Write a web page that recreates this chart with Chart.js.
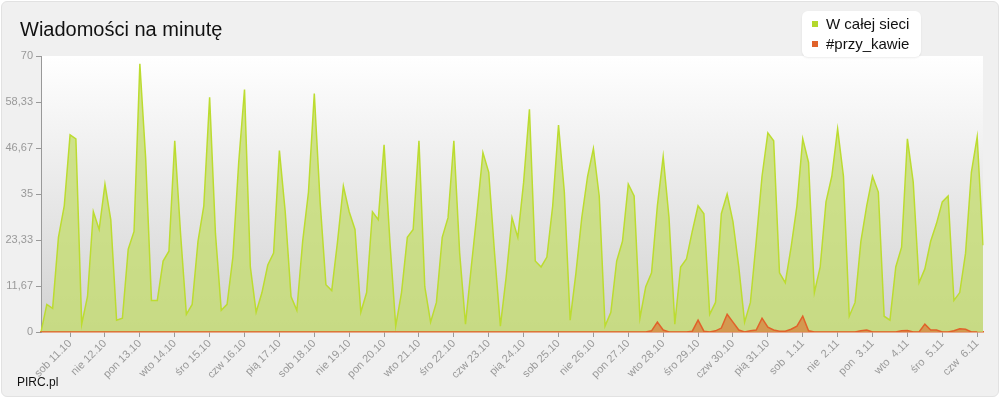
<!DOCTYPE html>
<html>
<head>
<meta charset="utf-8">
<script src="https://cdn.jsdelivr.net/npm/chart.js@4"></script>
<style>
  body { margin: 0; background: #fff; font-family: "Liberation Sans", Arial, sans-serif; }
  #wrap { position: relative; width: 998px; height: 396px; margin: 1px; background: #f0f0f0;
          border: 1px solid #e2e2e2; border-radius: 6px; box-sizing: border-box; }
  #title { position: absolute; left: 18px; top: 16px; font-size: 20px; color: #111; }
  #legend { position: absolute; left: 800px; top: 9px; background: #fff; border-radius: 6px;
            padding: 3px 12px 3px 10px; font-size: 15px; color: #111; line-height: 20px;
            box-shadow: 0 1px 2px rgba(0,0,0,0.08); }
  #legend span.sq { display: inline-block; width: 6px; height: 6px; margin-right: 8px; vertical-align: 2px; }
  #brand { position: absolute; left: 15px; top: 373px; font-size: 12px; color: #111; }
  #c { position: absolute; left: 0; top: 0; }
</style>
</head>
<body>
<div id="wrap">
  <canvas id="c" width="998" height="396"></canvas>
  <div id="title">Wiadomości na minutę</div>
  <div id="legend">
    <div><span class="sq" style="background:#b4d82c"></span>W całej sieci</div>
    <div><span class="sq" style="background:#e0622a"></span>#przy_kawie</div>
  </div>
  <div id="brand">PIRC.pl</div>
</div>
<script>
const days = ['sob 11.10','nie 12.10','pon 13.10','wto 14.10','śro 15.10','czw 16.10','pią 17.10',
  'sob 18.10','nie 19.10','pon 20.10','wto 21.10','śro 22.10','czw 23.10','pią 24.10','sob 25.10',
  'nie 26.10','pon 27.10','wto 28.10','śro 29.10','czw 30.10','pią 31.10','sob  1.11','nie  2.11',
  'pon  3.11','wto  4.11','śro  5.11','czw  6.11'];

// 4-hour samples
const wholeNet = [0,7,6,24,32,50,49,2,9,30.5,26,37.5,28.5,3,3.5,21,25.5,68,44,8,8,18,20.5,48.5,25,4.5,
  7,23,32,59.5,25,5.5,7,19,43,61.5,16.5,5,10,17,20,46,30.5,9,5.5,23,35.5,60.5,33,12,10.5,23,37,30.5,
  26,5,10,30.5,28.5,47.5,23,1.5,10,24,26,48.5,11.5,2.5,7.5,24,29,48.5,20,2,16.5,30.5,45.5,40.5,20,1.5,
  14,29,24,38,56.5,18,16.5,19,32,52.5,35.5,3,15,29,39.5,46.5,34.5,1.5,5,18,23,37.5,34.5,3.5,11.5,15,
  32,44.5,29,2,16.5,18.5,25.5,32,30,4.5,7.5,30,35,28,16.5,2.5,7.5,23,39.5,50.5,48.5,15,12.5,21.5,32,
  49,43,10,16.5,33,39.5,51.5,39.5,4,7.5,23,32,39.5,35.5,4,3,16.5,21.5,49,38,12.5,16,23,27.5,33,34.5,
  8,10,20,40.5,49.5,22];
const przyKawie = [0,0,0,0,0,0,0,0,0,0,0,0,0,0,0,0,0,0,0,0,0,0,0,0,0,0,0,0,0,0,0,0,0,0,0,0,0,0,0,0,
  0,0,0,0,0,0,0,0,0,0,0,0,0,0,0,0,0,0,0,0,0,0,0,0,0,0,0,0,0,0,0,0,0,0,0,0,0,0,0,0,
  0,0,0,0,0,0,0,0,0,0,0,0,0,0,0,0,0,0,0,0,0,0,0,0,0,0.3,2.5,0.5,0,0,0,0,0.2,3,0.2,0,0.3,1,4.5,2.5,
  0.5,0,0.3,0.5,3.5,1.2,0.5,0.2,0.2,0.7,1.5,4,0.3,0,0,0,0,0,0,0,0,0.3,0.5,0,0,0,0,0,0.3,0.4,0,0,2,0.5,
  0.5,0,0,0.3,0.8,0.7,0,0];

const labels = wholeNet.map((v, i) => (i % 6 === 5 ? days[(i - 5) / 6] : ''));

const plotBg = {
  id: 'plotBg',
  beforeDraw(chart) {
    const { ctx, chartArea: a } = chart;
    const g = ctx.createLinearGradient(0, a.top, 0, a.bottom);
    g.addColorStop(0, '#ffffff');
    g.addColorStop(1, '#d2d2d2');
    ctx.save();
    ctx.fillStyle = g;
    ctx.fillRect(a.left, a.top, a.right - a.left, a.bottom - a.top);
    ctx.restore();
  }
};

new Chart(document.getElementById('c'), {
  type: 'line',
  data: {
    labels: labels,
    datasets: [
      { label: '#przy_kawie', data: przyKawie, borderColor: '#e0622a', backgroundColor: 'rgba(214,140,70,0.85)',
        borderWidth: 1.5, fill: 'origin', pointRadius: 0, tension: 0, order: 0 },
      { label: 'W całej sieci', data: wholeNet, borderColor: '#bcdc30', backgroundColor: 'rgba(196,220,110,0.78)',
        borderWidth: 1.5, fill: 'origin', pointRadius: 0, tension: 0, order: 1 }
    ]
  },
  plugins: [plotBg],
  options: {
    responsive: false,
    animation: false,
    layout: { padding: { top: 54, right: 17, left: 0, bottom: 0 } },
    plugins: { legend: { display: false }, tooltip: { enabled: false } },
    scales: {
      x: {
        offset: false,
        afterFit(s) { s.height = 66; },
        border: { color: '#e0622a', width: 1.5 },
        grid: { drawOnChartArea: false, tickLength: 5,
                color: c => (c.tick && c.tick.label ? '#999' : 'rgba(0,0,0,0)') },
        ticks: { autoSkip: false, maxRotation: 45, minRotation: 45, color: '#999',
                 font: { size: 11, family: 'Liberation Sans' }, padding: 0 }
      },
      y: {
        min: 0, max: 70,
        afterFit(s) { s.width = 39; },
        afterBuildTicks(s) { s.ticks = [0,1,2,3,4,5,6].map(k => ({ value: k * 70 / 6 })); },
        border: { color: '#999', width: 1 },
        grid: { drawOnChartArea: false, tickLength: 5, color: '#999' },
        ticks: { color: '#999', font: { size: 11, family: 'Liberation Sans' }, padding: 3,
                 callback: v => String(Math.round(v * 100) / 100).replace('.', ',') }
      }
    }
  }
});
</script>
</body>
</html>
